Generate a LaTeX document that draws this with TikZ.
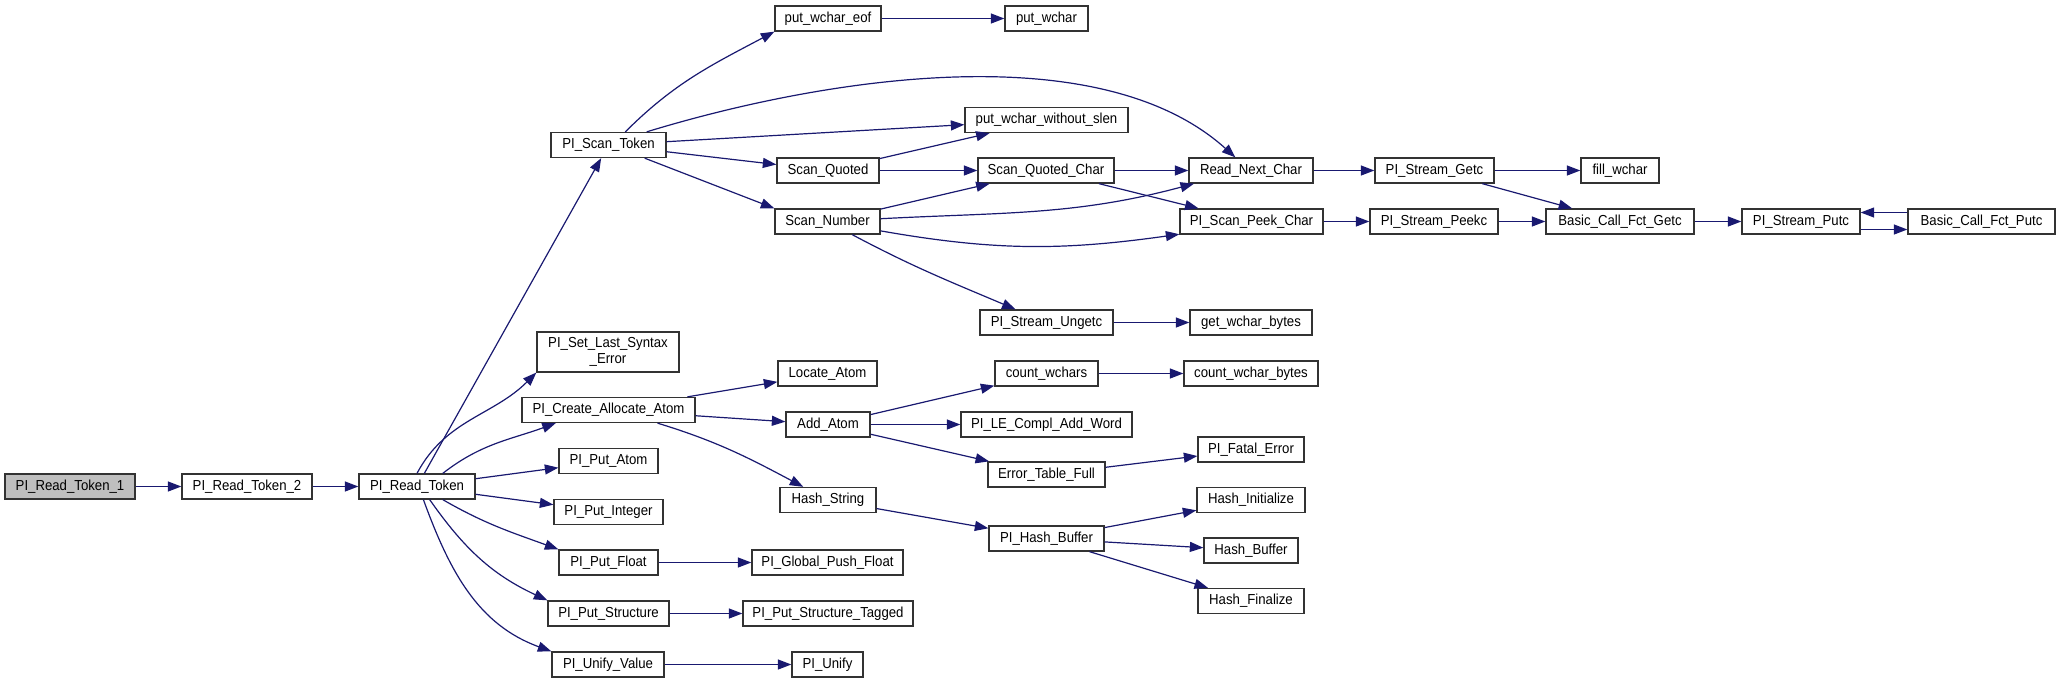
\documentclass[tikz,border=0pt]{standalone}
\usepackage{fontspec}
\setmainfont{Liberation Sans}[FakeStretch=0.91]
\usetikzlibrary{arrows.meta}
\definecolor{midblue}{RGB}{25,25,112}

\begin{document}
\begin{tikzpicture}[x=1pt, y=-1pt,
    fn/.style={draw=black!80, line width=1.3, fill=white, minimum height=25, inner sep=0pt,
        font=\fontsize{14.5}{16}\selectfont},
    root/.style={fn, fill=black!25},
    call/.style={midblue, line width=1.2, -{Triangle[length=13.5pt,width=10pt]}}]
    \useasboundingbox (0,0) rectangle (2056,683);

    % Caller chain
    \node[root, minimum width=130] (rt1) at (70,486.5) {PI\_Read\_Token\_1};
    \node[fn, minimum width=130] (rt2) at (247,486.5) {PI\_Read\_Token\_2};
    \node[fn, minimum width=116] (rtok) at (417,486.5) {PI\_Read\_Token};

    % Called by PI_Read_Token
    \node[fn, minimum width=115] (scantok) at (608.5,145) {PI\_Scan\_Token};
    \node[fn, minimum width=142, minimum height=40, align=center] (setlast) at (608,352) {PI\_Set\_Last\_Syntax\\\_Error};
    \node[fn, minimum width=173] (createatom) at (608.5,410) {PI\_Create\_Allocate\_Atom};
    \node[fn, minimum width=99] (putatom) at (608.5,461) {PI\_Put\_Atom};
    \node[fn, minimum width=109] (putint) at (608.5,512) {PI\_Put\_Integer};
    \node[fn, minimum width=99] (putfloat) at (608.5,562.5) {PI\_Put\_Float};
    \node[fn, minimum width=121] (putstruct) at (608.5,613.5) {PI\_Put\_Structure};
    \node[fn, minimum width=112] (unifyval) at (608,664.5) {PI\_Unify\_Value};

    % Third column
    \node[fn, minimum width=106] (pweof) at (828,18.5) {put\_wchar\_eof};
    \node[fn, minimum width=102] (scanquoted) at (828,170.5) {Scan\_Quoted};
    \node[fn, minimum width=105] (scannumber) at (827.5,221.5) {Scan\_Number};
    \node[fn, minimum width=99] (locate) at (827.5,373.5) {Locate\_Atom};
    \node[fn, minimum width=84] (addatom) at (828,424.5) {Add\_Atom};
    \node[fn, minimum width=96] (hashstring) at (828,500) {Hash\_String};
    \node[fn, minimum width=151] (globalpush) at (827.5,562.5) {PI\_Global\_Push\_Float};
    \node[fn, minimum width=170] (structtagged) at (828,613.5) {PI\_Put\_Structure\_Tagged};
    \node[fn, minimum width=71] (unify) at (827.5,664.5) {PI\_Unify};

    % Fourth column
    \node[fn, minimum width=83] (pwchar) at (1046.5,18.5) {put\_wchar};
    \node[fn, minimum width=163] (pwslen) at (1046.5,120) {put\_wchar\_without\_slen};
    \node[fn, minimum width=136] (sqchar) at (1046,170.5) {Scan\_Quoted\_Char};
    \node[fn, minimum width=133] (ungetc) at (1046.5,322.5) {PI\_Stream\_Ungetc};
    \node[fn, minimum width=103] (countwchars) at (1046.5,373.5) {count\_wchars};
    \node[fn, minimum width=171] (lecompl) at (1046.5,424.5) {PI\_LE\_Compl\_Add\_Word};
    \node[fn, minimum width=117] (errtable) at (1046.5,474.5) {Error\_Table\_Full};
    \node[fn, minimum width=115] (phashbuf) at (1046.5,538.5) {PI\_Hash\_Buffer};

    % Fifth column
    \node[fn, minimum width=124] (readnext) at (1251,170.5) {Read\_Next\_Char};
    \node[fn, minimum width=143] (peekchar) at (1251.5,221.5) {PI\_Scan\_Peek\_Char};
    \node[fn, minimum width=122] (getwbytes) at (1251,322.5) {get\_wchar\_bytes};
    \node[fn, minimum width=134] (countwbytes) at (1251,373.5) {count\_wchar\_bytes};
    \node[fn, minimum width=106] (fatal) at (1251,449.5) {PI\_Fatal\_Error};
    \node[fn, minimum width=108] (hashinit) at (1251,500) {Hash\_Initialize};
    \node[fn, minimum width=94] (hashbuf) at (1251,550.5) {Hash\_Buffer};
    \node[fn, minimum width=106] (hashfin) at (1251,601) {Hash\_Finalize};

    % Stream functions
    \node[fn, minimum width=119] (getc) at (1434.5,170.5) {PI\_Stream\_Getc};
    \node[fn, minimum width=128] (peekc) at (1434,221.5) {PI\_Stream\_Peekc};
    \node[fn, minimum width=78] (fillwchar) at (1620,170.5) {fill\_wchar};
    \node[fn, minimum width=148] (bcfgetc) at (1620,221.5) {Basic\_Call\_Fct\_Getc};
    \node[fn, minimum width=118] (putc) at (1801,221.5) {PI\_Stream\_Putc};
    \node[fn, minimum width=147] (bcfputc) at (1981.5,221.5) {Basic\_Call\_Fct\_Putc};

    % Calls
    \draw[call] (rt1) -- (rt2);
    \draw[call] (rt2) -- (rtok);
    \draw[call] (rtok) -- (scantok);
    \draw[call] (rtok.north) to[out=62,in=225] (setlast.196);
    \draw[call] (rtok.27) to[out=38,in=200] (createatom.194);
    \draw[call] (rtok) -- (putatom);
    \draw[call] (rtok) -- (putint);
    \draw[call] (rtok.-27) to[out=-30,in=160] (putfloat.north west);
    \draw[call] (rtok.-46) to[out=-55,in=155] (putstruct.north west);
    \draw[call] (rtok.-64) to[out=-70,in=160] (unifyval.north west);

    \draw[call] (scantok.38) to[out=45,in=208] (pweof.south west);
    \draw[call] (scantok.19) to[out=17,in=138,looseness=0.8] (readnext.140);
    \draw[call] (scantok) -- (pwslen);
    \draw[call] (scantok) -- (scanquoted);
    \draw[call] (scantok.-20) -- (scannumber.north west);

    \draw[call] (pweof) -- (pwchar);
    \draw[call] (scanquoted) -- (pwslen);
    \draw[call] (scanquoted) -- (sqchar);
    \draw[call] (scannumber) -- (sqchar);
    \draw[call] (scannumber.3) to[out=3,in=195] (readnext.193);
    \draw[call] (scannumber.-10) to[out=-10,in=188] (peekchar.190);
    \draw[call] (scannumber) to[out=-28,in=157] (ungetc);
    \draw[call] (sqchar) -- (readnext);
    \draw[call] (sqchar) -- (peekchar);
    \draw[call] (ungetc) -- (getwbytes);

    \draw[call] (readnext) -- (getc);
    \draw[call] (peekchar) -- (peekc);
    \draw[call] (getc) -- (fillwchar);
    \draw[call] (getc) -- (bcfgetc);
    \draw[call] (peekc) -- (bcfgetc);
    \draw[call] (bcfgetc) -- (putc);
    \draw[call] ([yshift=-8]putc.east) -- ([yshift=-8]bcfputc.west);
    \draw[call] ([yshift=9]bcfputc.west) -- ([yshift=9]putc.east);

    \draw[call] (createatom) -- (locate);
    \draw[call] (createatom) -- (addatom);
    \draw[call] (createatom.-15) to[out=-17,in=152] (hashstring.152);
    \draw[call] (addatom) -- (countwchars);
    \draw[call] (addatom) -- (lecompl);
    \draw[call] (addatom) -- (errtable);
    \draw[call] (countwchars) -- (countwbytes);
    \draw[call] (errtable) -- (fatal);
    \draw[call] (hashstring) -- (phashbuf);
    \draw[call] (phashbuf) -- (hashinit);
    \draw[call] (phashbuf) -- (hashbuf);
    \draw[call] (phashbuf) -- (hashfin);

    \draw[call] (putfloat) -- (globalpush);
    \draw[call] (putstruct) -- (structtagged);
    \draw[call] (unifyval) -- (unify);
\end{tikzpicture}
\end{document}
